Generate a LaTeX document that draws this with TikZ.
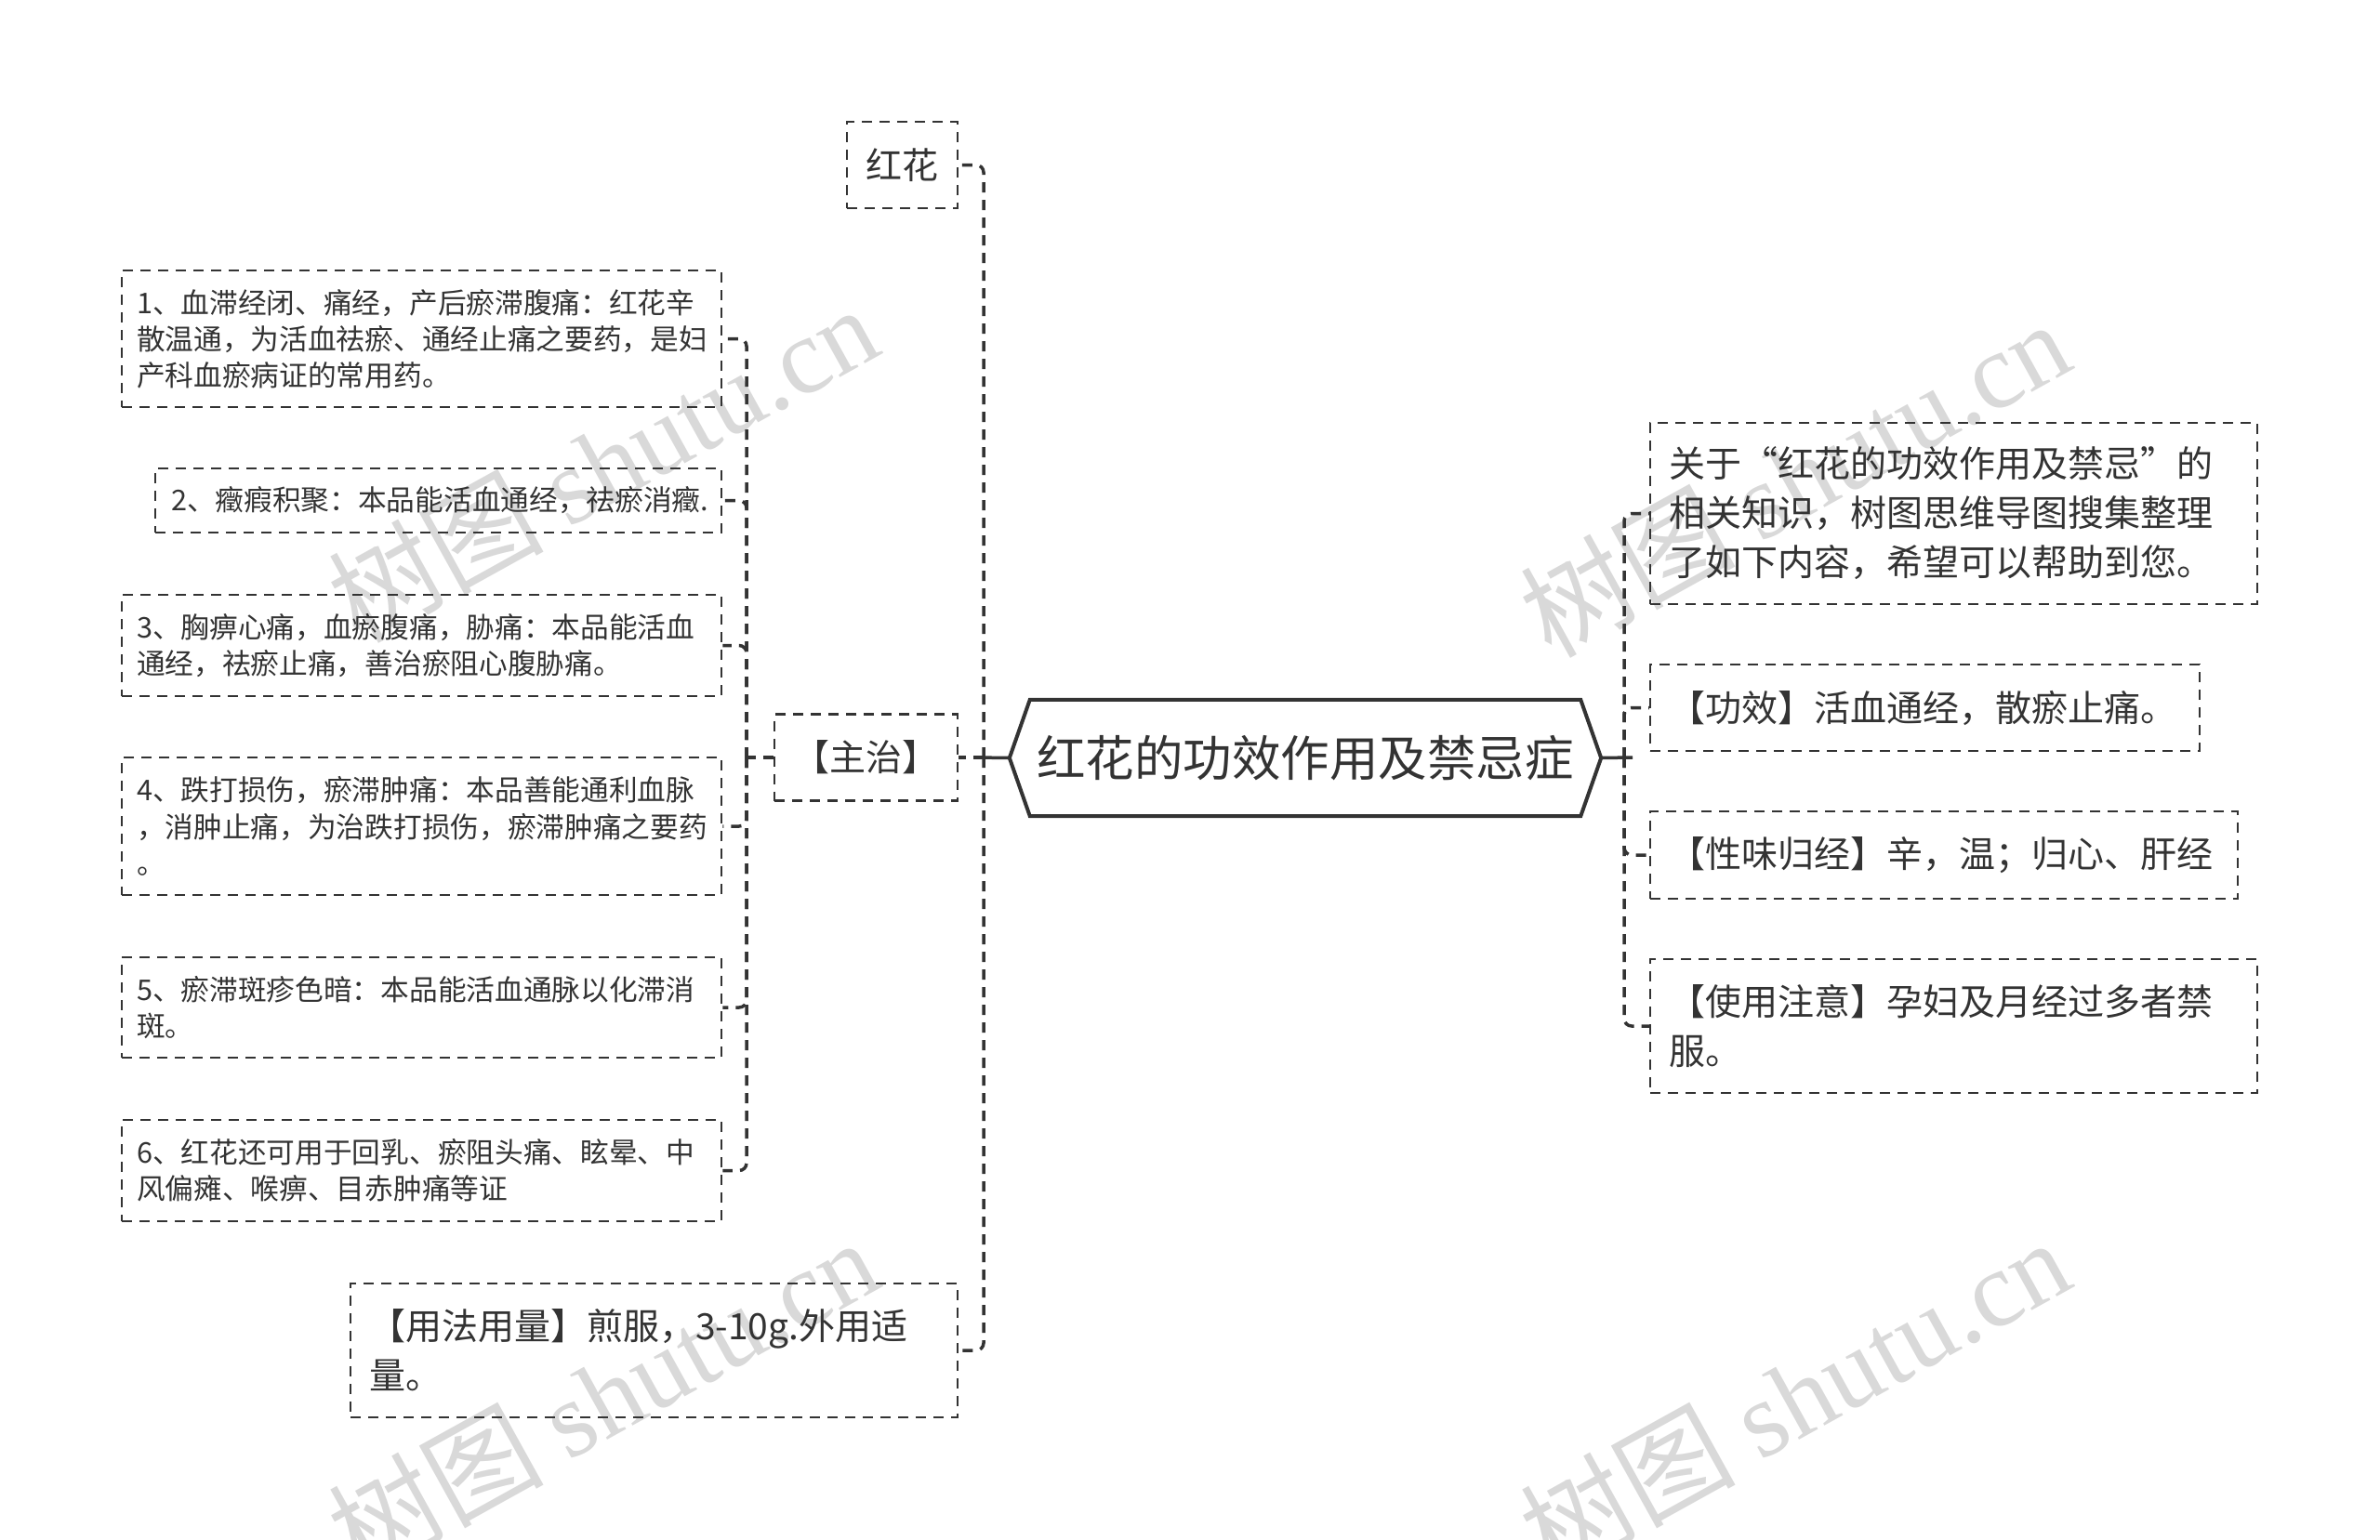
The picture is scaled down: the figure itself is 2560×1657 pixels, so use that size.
\documentclass[tikz,border=0pt]{standalone}
\usepackage{fontspec}
\setmainfont{Noto Sans CJK SC}
\newfontfamily\wmlatin{Liberation Serif}
\usetikzlibrary{calc}
\definecolor{ink}{HTML}{333333}
\definecolor{wmgray}{HTML}{D9D9D9}
\begin{document}
\begin{tikzpicture}[x=1pt,y=-1pt,
  box/.style={draw=ink, line width=2.5pt, dash pattern=on 11pt off 8pt, text=ink, align=left, inner ysep=0pt, anchor=center},
  smalltext/.style={font=\fontsize{30.7}{39.2}\selectfont},
  bigtext/.style={font=\fontsize{39}{53}\selectfont},
  conn/.style={draw=ink, line width=3.5pt, dash pattern=on 11pt off 8pt, rounded corners=8pt},
  stub/.style={draw=ink, line width=3.5pt},
  wmk/.style={text=wmgray, rotate=29, font=\fontsize{116}{116}\selectfont, anchor=center, inner sep=0pt}]
\path[use as bounding box, fill=white] (0,0) rectangle (2560,1657);

% watermarks
\node[wmk] (wm1) at (648,498) {树图 {\wmlatin shutu.cn}};
\node[wmk] (wm2) at (1930,514) {树图 {\wmlatin shutu.cn}};
\node[wmk] (wm3) at (648,1502) {树图 {\wmlatin shutu.cn}};
\node[wmk] (wm4) at (1930,1502) {树图 {\wmlatin shutu.cn}};

% root
\node[font=\fontsize{52.5}{60}\selectfont, text=ink, minimum width=636pt, minimum height=125pt, inner sep=0pt] (root) at (1404,815.5) {红花的功效作用及禁忌症};
\draw[ink, line width=4pt, line join=miter]
  ($(root.north west)+(22,0)$) -- ($(root.north east)+(-22,0)$) -- (root.east)
  -- ($(root.south east)+(-22,0)$) -- ($(root.south west)+(22,0)$) -- (root.west) -- cycle;

% left first level
\node[box, bigtext, align=center, minimum width=119pt, minimum height=93pt, inner xsep=0pt] (hh) at (970.5,177.5) {红花};
\node[box, bigtext, align=center, minimum width=197pt, minimum height=93pt, inner xsep=0pt] (zz) at (931.5,815) {【主治】};
\node[box, bigtext, text width=613pt, inner xsep=20pt, minimum height=144pt] (yf) at (703.5,1453) {【用法用量】煎服，3-10g.外用适\\量。};

% items
\node[box, smalltext, text width=613pt, inner xsep=16pt, minimum height=147pt] (i1) at (453.5,364.5) {1、血滞经闭、痛经，产后瘀滞腹痛：红花辛\\散温通，为活血祛瘀、通经止痛之要药，是妇\\产科血瘀病证的常用药。};
\node[box, smalltext, text width=575pt, inner xsep=17pt, minimum height=69pt] (i2) at (471.5,538.5) {2、癥瘕积聚：本品能活血通经，祛瘀消癥.};
\node[box, smalltext, text width=613pt, inner xsep=16pt, minimum height=109pt] (i3) at (453.5,694.5) {3、胸痹心痛，血瘀腹痛，胁痛：本品能活血\\通经，祛瘀止痛，善治瘀阻心腹胁痛。};
\node[box, smalltext, text width=613pt, inner xsep=16pt, minimum height=148pt] (i4) at (453.5,889) {4、跌打损伤，瘀滞肿痛：本品善能通利血脉\\，消肿止痛，为治跌打损伤，瘀滞肿痛之要药\\。};
\node[box, smalltext, text width=613pt, inner xsep=16pt, minimum height=108pt] (i5) at (453.5,1084) {5、瘀滞斑疹色暗：本品能活血通脉以化滞消\\斑。};
\node[box, smalltext, text width=613pt, inner xsep=16pt, minimum height=109pt] (i6) at (453.5,1259.5) {6、红花还可用于回乳、瘀阻头痛、眩晕、中\\风偏瘫、喉痹、目赤肿痛等证};

% right side
\node[box, bigtext, text width=613pt, inner xsep=20pt, minimum height=195pt] (r1) at (2101.5,552.5) {关于“红花的功效作用及禁忌”的\\相关知识，树图思维导图搜集整理\\了如下内容，希望可以帮助到您。};
\node[box, bigtext, text width=551pt, inner xsep=20pt, minimum height=93pt] (r2) at (2070.5,761.5) {【功效】活血通经，散瘀止痛。};
\node[box, bigtext, text width=592pt, inner xsep=20pt, minimum height=94pt] (r3) at (2091,920) {【性味归经】辛，温；归心、肝经};
\node[box, bigtext, text width=613pt, inner xsep=20pt, minimum height=144pt] (r4) at (2101.5,1104) {【使用注意】孕妇及月经过多者禁\\服。};

% junctions
\coordinate (jl) at (1058,815);
\coordinate (jlx) at (1049,815);
\coordinate (js) at (803,815);
\coordinate (jr) at (1747,815);
\coordinate (jrx) at (1756,815);

% connectors
\draw[stub] (root.west) -- (jlx);
\draw[conn] (jl) |- (hh.east);
\draw[conn] (jl) -- (zz.east);
\draw[conn] (jl) |- (yf.east);

\draw[conn] (zz.west) -- (js);
\draw[conn] (js) |- (i1.east);
\draw[conn] (js) |- (i2.east);
\draw[conn] (js) |- (i3.east);
\draw[conn] (js) |- (i4.east);
\draw[conn] (js) |- (i5.east);
\draw[conn] (js) |- (i6.east);

\draw[stub] (root.east) -- (jrx);
\draw[conn] (jr) |- (r1.west);
\draw[conn] (jr) |- (r2.west);
\draw[conn] (jr) |- (r3.west);
\draw[conn] (jr) |- (r4.west);
\end{tikzpicture}
\end{document}
